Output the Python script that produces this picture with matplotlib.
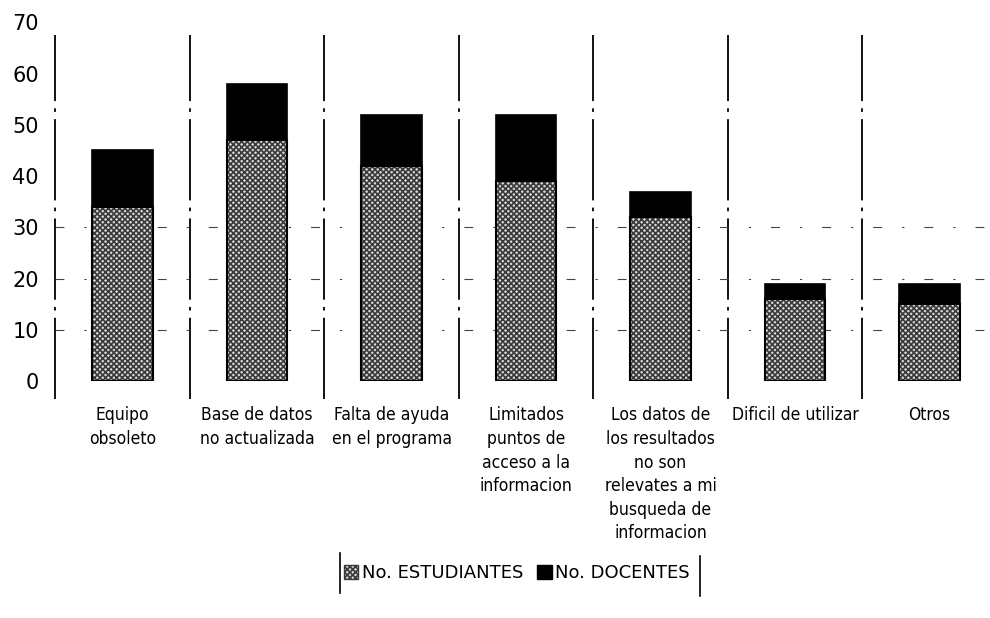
import matplotlib.pyplot as plt
from matplotlib.patches import Patch
from matplotlib.lines import Line2D

categorias = [
    "Equipo\nobsoleto",
    "Base de datos\nno actualizada",
    "Falta de ayuda\nen el programa",
    "Limitados\npuntos de\nacceso a la\ninformacion",
    "Los datos de\nlos resultados\nno son\nrelevates a mi\nbusqueda de\ninformacion",
    "Dificil de utilizar",
    "Otros",
]
estudiantes = [34, 47, 42, 39, 32, 16, 15]
docentes = [11, 11, 10, 13, 5, 3, 4]

plt.rcParams["hatch.linewidth"] = 1.2

fig = plt.figure(figsize=(9.9, 6.18), dpi=100)
ax = fig.add_axes([0.056, 0.383, 0.944, 0.581])

x = range(len(categorias))
ancho = 0.45

# Estudiantes: trama gris fina con contorno negro
ax.bar(x, estudiantes, width=ancho, color="#d8d8d8", hatch="xxxxxx",
       edgecolor="#3a3a3a", linewidth=0)
ax.bar(x, estudiantes, width=ancho, fill=False, edgecolor="black", linewidth=1.5)
# Docentes apilados en negro
ax.bar(x, docentes, bottom=estudiantes, width=ancho, color="black",
       edgecolor="black", linewidth=1.2)

# separadores verticales entre categorias
separadores = [-0.5] + [i + 0.5 for i in range(len(categorias) - 1)]
ax.vlines(separadores, -3.5, 67.5, colors="black", linewidth=1.3,
          linestyles=(0, (45, 4, 2, 4)), clip_on=False, zorder=0)

# restos de la cuadricula horizontal
for nivel in (10, 20, 30):
    ax.axhline(nivel, color="#444444", linewidth=0.8,
               linestyle=(0, (8, 18, 2, 18)), zorder=0)

ax.set_xlim(-0.5, 6.45)
ax.set_ylim(0, 70)
ax.set_yticks(range(0, 71, 10))
ax.set_xticks(list(x))
ax.set_xticklabels(categorias, fontsize=12.5, linespacing=1.4,
                   family="DejaVu Sans", fontstretch="condensed")
ax.tick_params(axis="y", length=0, labelsize=15, pad=12)
ax.tick_params(axis="x", length=0, pad=18)
for spine in ax.spines.values():
    spine.set_visible(False)

handles = [
    Patch(facecolor="#d8d8d8", hatch="xxxxxx", edgecolor="#3a3a3a", label="No. ESTUDIANTES"),
    Patch(facecolor="black", edgecolor="black", label="No. DOCENTES"),
]
fig.legend(handles=handles, loc="center", bbox_to_anchor=(0.522, 0.073), ncol=2,
           frameon=False, fontsize=13, handlelength=0.8, handleheight=0.8,
           handletextpad=0.2, columnspacing=0.8)
fig.add_artist(Line2D([0.343, 0.343], [0.04, 0.105], color="black", linewidth=1.2))
fig.add_artist(Line2D([0.707, 0.707], [0.035, 0.1], color="black", linewidth=1.2))

fig.savefig("out.png", dpi=100, facecolor="white")
